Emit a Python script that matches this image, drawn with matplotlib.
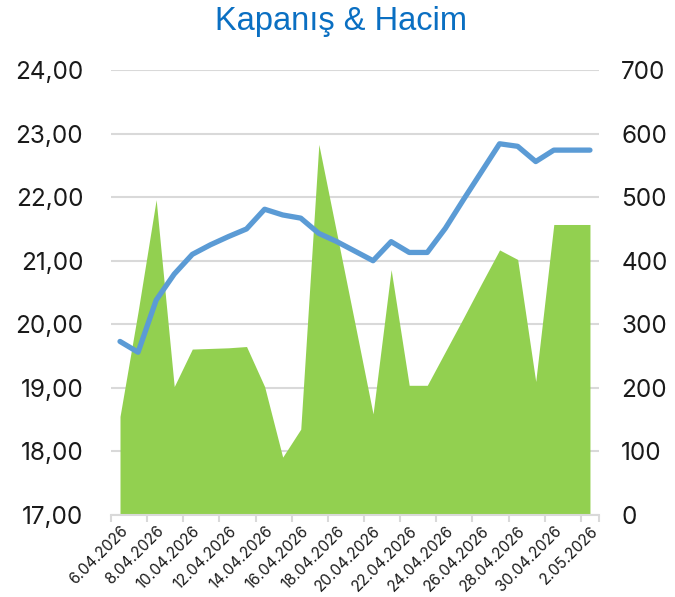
import matplotlib
matplotlib.use('Agg')
import matplotlib.pyplot as plt
from matplotlib.ticker import FuncFormatter, FixedLocator


dates = ['6.04.2026', '7.04.2026', '8.04.2026', '9.04.2026', '10.04.2026', '11.04.2026',
         '12.04.2026', '13.04.2026', '14.04.2026', '15.04.2026', '16.04.2026', '17.04.2026',
         '18.04.2026', '19.04.2026', '20.04.2026', '21.04.2026', '22.04.2026', '23.04.2026',
         '24.04.2026', '25.04.2026', '26.04.2026', '27.04.2026', '28.04.2026', '29.04.2026',
         '30.04.2026', '1.05.2026', '2.05.2026']
kapanis = [19.73, 19.56, 20.38, 20.79, 21.10, 21.25, 21.38, 21.50, 21.81, 21.72, 21.67, 21.43,
           21.30, 21.15, 21.00, 21.30, 21.13, 21.13, 21.51, 21.96, 22.40, 22.84, 22.80, 22.56,
           22.74, 22.74, 22.74]
hacim = [155, 320, 496, 202, 261, 262, 263, 265, 202, 91, 135, 583,
         442, 301, 159, 386, 204, 204, 257, 310, 364, 417, 402, 210,
         457, 457, 457]

font = 'Inter'
x = list(range(len(dates)))

fig = plt.figure(figsize=(6.75, 5.97), dpi=100)
ax2 = fig.add_axes([0.1644, 0.1374, 0.723, 0.7453])
ax = ax2.twinx()
ax2.yaxis.tick_right()
ax.yaxis.tick_left()

# volume area (right axis)
ax2.fill_between(x, hacim, 0, color='#92D050', linewidth=0, zorder=2)
ax2.set_ylim(0, 700)
ax2.set_yticks(range(0, 701, 100))
ax2.grid(axis='y', color='#D9D9D9', linewidth=1.5, zorder=0)
ax2.set_axisbelow(True)

# close line (left axis)
ax.plot(x, kapanis, color='#5B9BD5', linewidth=3.8, solid_capstyle='round', solid_joinstyle='round', zorder=3)
ax.set_ylim(17, 24)
ax.set_yticks(range(17, 25))
ax.yaxis.set_major_formatter(FuncFormatter(lambda v, p: ('%.2f' % v).replace('.', ',')))

for a in (ax, ax2):
    for s in a.spines.values():
        s.set_visible(False)
    a.tick_params(axis='y', length=0, labelsize=17.5, labelcolor='#1A1A1A')
    for lab in a.get_yticklabels():
        lab.set_fontfamily(font)
ax.tick_params(axis='y', pad=20)
ax2.tick_params(axis='y', pad=16)

ax2.spines['bottom'].set_visible(True)
ax2.spines['bottom'].set_color('#D9D9D9')
ax2.spines['bottom'].set_linewidth(1.5)
ax2.set_xlim(-0.5, len(dates) - 0.5)
ax2.set_xticks(x[::2])
ax2.set_xticklabels(dates[::2], rotation=45, ha='right', rotation_mode='anchor',
                    fontsize=11, fontfamily=font, color='#1A1A1A')
ax2.tick_params(axis='x', which='major', length=0, pad=6)
ax2.xaxis.set_minor_locator(FixedLocator([i - 0.5 for i in range(0, len(dates), 2)] + [len(dates) - 0.5]))
ax2.tick_params(axis='x', which='minor', length=5, color='#D9D9D9', width=1.5)
ax.tick_params(axis='x', length=0, labelbottom=False)

fig.suptitle('Kapanış & Hacim', x=0.505, y=0.99, fontsize=23.5, color='#0A6FC2',
             fontfamily='Liberation Sans')

fig.savefig('out.png', dpi=100)
